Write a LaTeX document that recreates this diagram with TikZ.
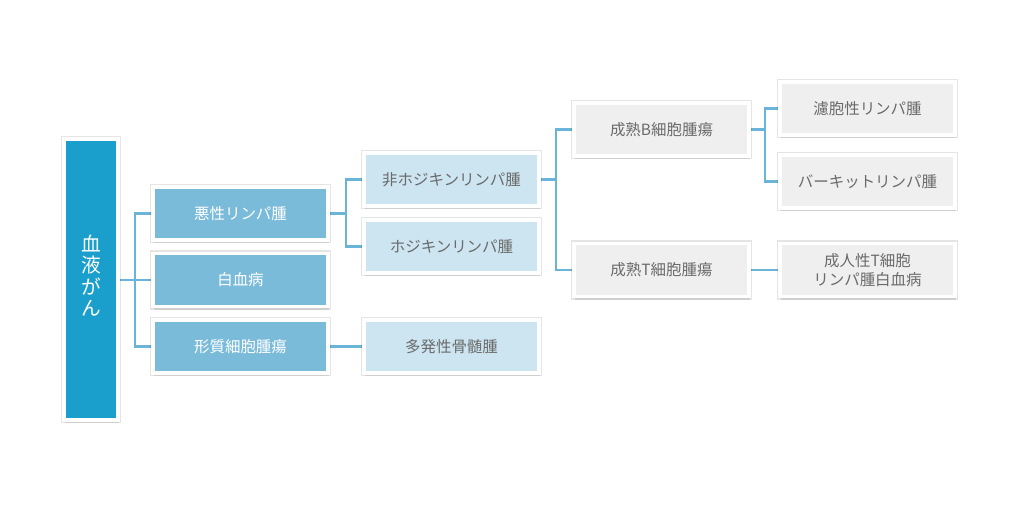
\documentclass[tikz,border=0pt]{standalone}
\usepackage{fontspec}
\setmainfont{Noto Sans CJK JP}
\usetikzlibrary{shadows, backgrounds}

\definecolor{rootblue}{HTML}{1A9FCC}
\definecolor{midblue}{HTML}{7BBBDA}
\definecolor{paleblue}{HTML}{CCE5F1}
\definecolor{palegray}{HTML}{EFEFEF}
\definecolor{linkblue}{HTML}{6AB4D9}
\definecolor{textgray}{HTML}{6A6A6A}

\begin{document}
\begin{tikzpicture}[
    x=0.025cm, y=-0.025cm,
    box/.style={draw=white, line width=2.6pt, fill=#1, outer sep=0pt,
                minimum width=4.375cm, minimum height=1.33cm, align=center,
                font=\fontsize{11}{13}\selectfont, text=textgray,
                preaction={draw=black, draw opacity=0.1, line width=4.2pt},
                drop shadow={opacity=0.22, shadow xshift=0.8pt, shadow yshift=-2.2pt}},
    link/.style={draw=linkblue, line width=2pt}
  ]
  \useasboundingbox (0,0) rectangle (1024,517);

  \node[box=rootblue, minimum width=1.35cm, minimum height=7.03cm, text=white,
        font=\fontsize{14}{15}\selectfont, yshift=-0.2375cm] (blood) at (91,270)
        {\raisebox{0.2375cm}{\shortstack{血\\液\\が\\ん}}};

  \node[box=midblue, text=white] (malig) at (240.5,213.5) {悪性リンパ腫};
  \node[box=midblue, text=white] (leuk) at (240.5,280) {白血病};
  \node[box=midblue, text=white] (plasma) at (240.5,346.5) {形質細胞腫瘍};

  \node[box=paleblue] (nonhodg) at (451.5,179.5) {非ホジキンリンパ腫};
  \node[box=paleblue] (hodg) at (451.5,246.5) {ホジキンリンパ腫};
  \node[box=paleblue] (myeloma) at (451.5,346.5) {多発性骨髄腫};

  \node[box=palegray] (bcell) at (661.5,129.5) {成熟B細胞腫瘍};
  \node[box=palegray] (tcell) at (661.5,270) {成熟T細胞腫瘍};

  \node[box=palegray] (follic) at (867.5,108.5) {濾胞性リンパ腫};
  \node[box=palegray] (burkitt) at (867.5,181.5) {バーキットリンパ腫};
  \node[box=palegray] (atll) at (867.5,270) {成人性T細胞\\リンパ腫白血病};

  % elbow links behind the boxes
  \begin{scope}[on background layer]
    \draw[link] (blood.east |- leuk.west) -- ++(17,0) |- (malig.west);
    \draw[link] (blood.east |- leuk.west) -- (leuk.west);
    \draw[link] (blood.east |- leuk.west) -- ++(17,0) |- (plasma.west);
    \draw[link] (malig.east) -- ++(18,0) |- (nonhodg.west);
    \draw[link] (malig.east) -- ++(18,0) |- (hodg.west);
    \draw[link] (plasma.east) -- (myeloma.west);
    \draw[link] (nonhodg.east) -- ++(17,0) |- (bcell.west);
    \draw[link] (nonhodg.east) -- ++(17,0) |- (tcell.west);
    \draw[link] (bcell.east) -- ++(16,0) |- (follic.west);
    \draw[link] (bcell.east) -- ++(16,0) |- (burkitt.west);
    \draw[link] (tcell.east) -- (atll.west);
  \end{scope}

\end{tikzpicture}
\end{document}
